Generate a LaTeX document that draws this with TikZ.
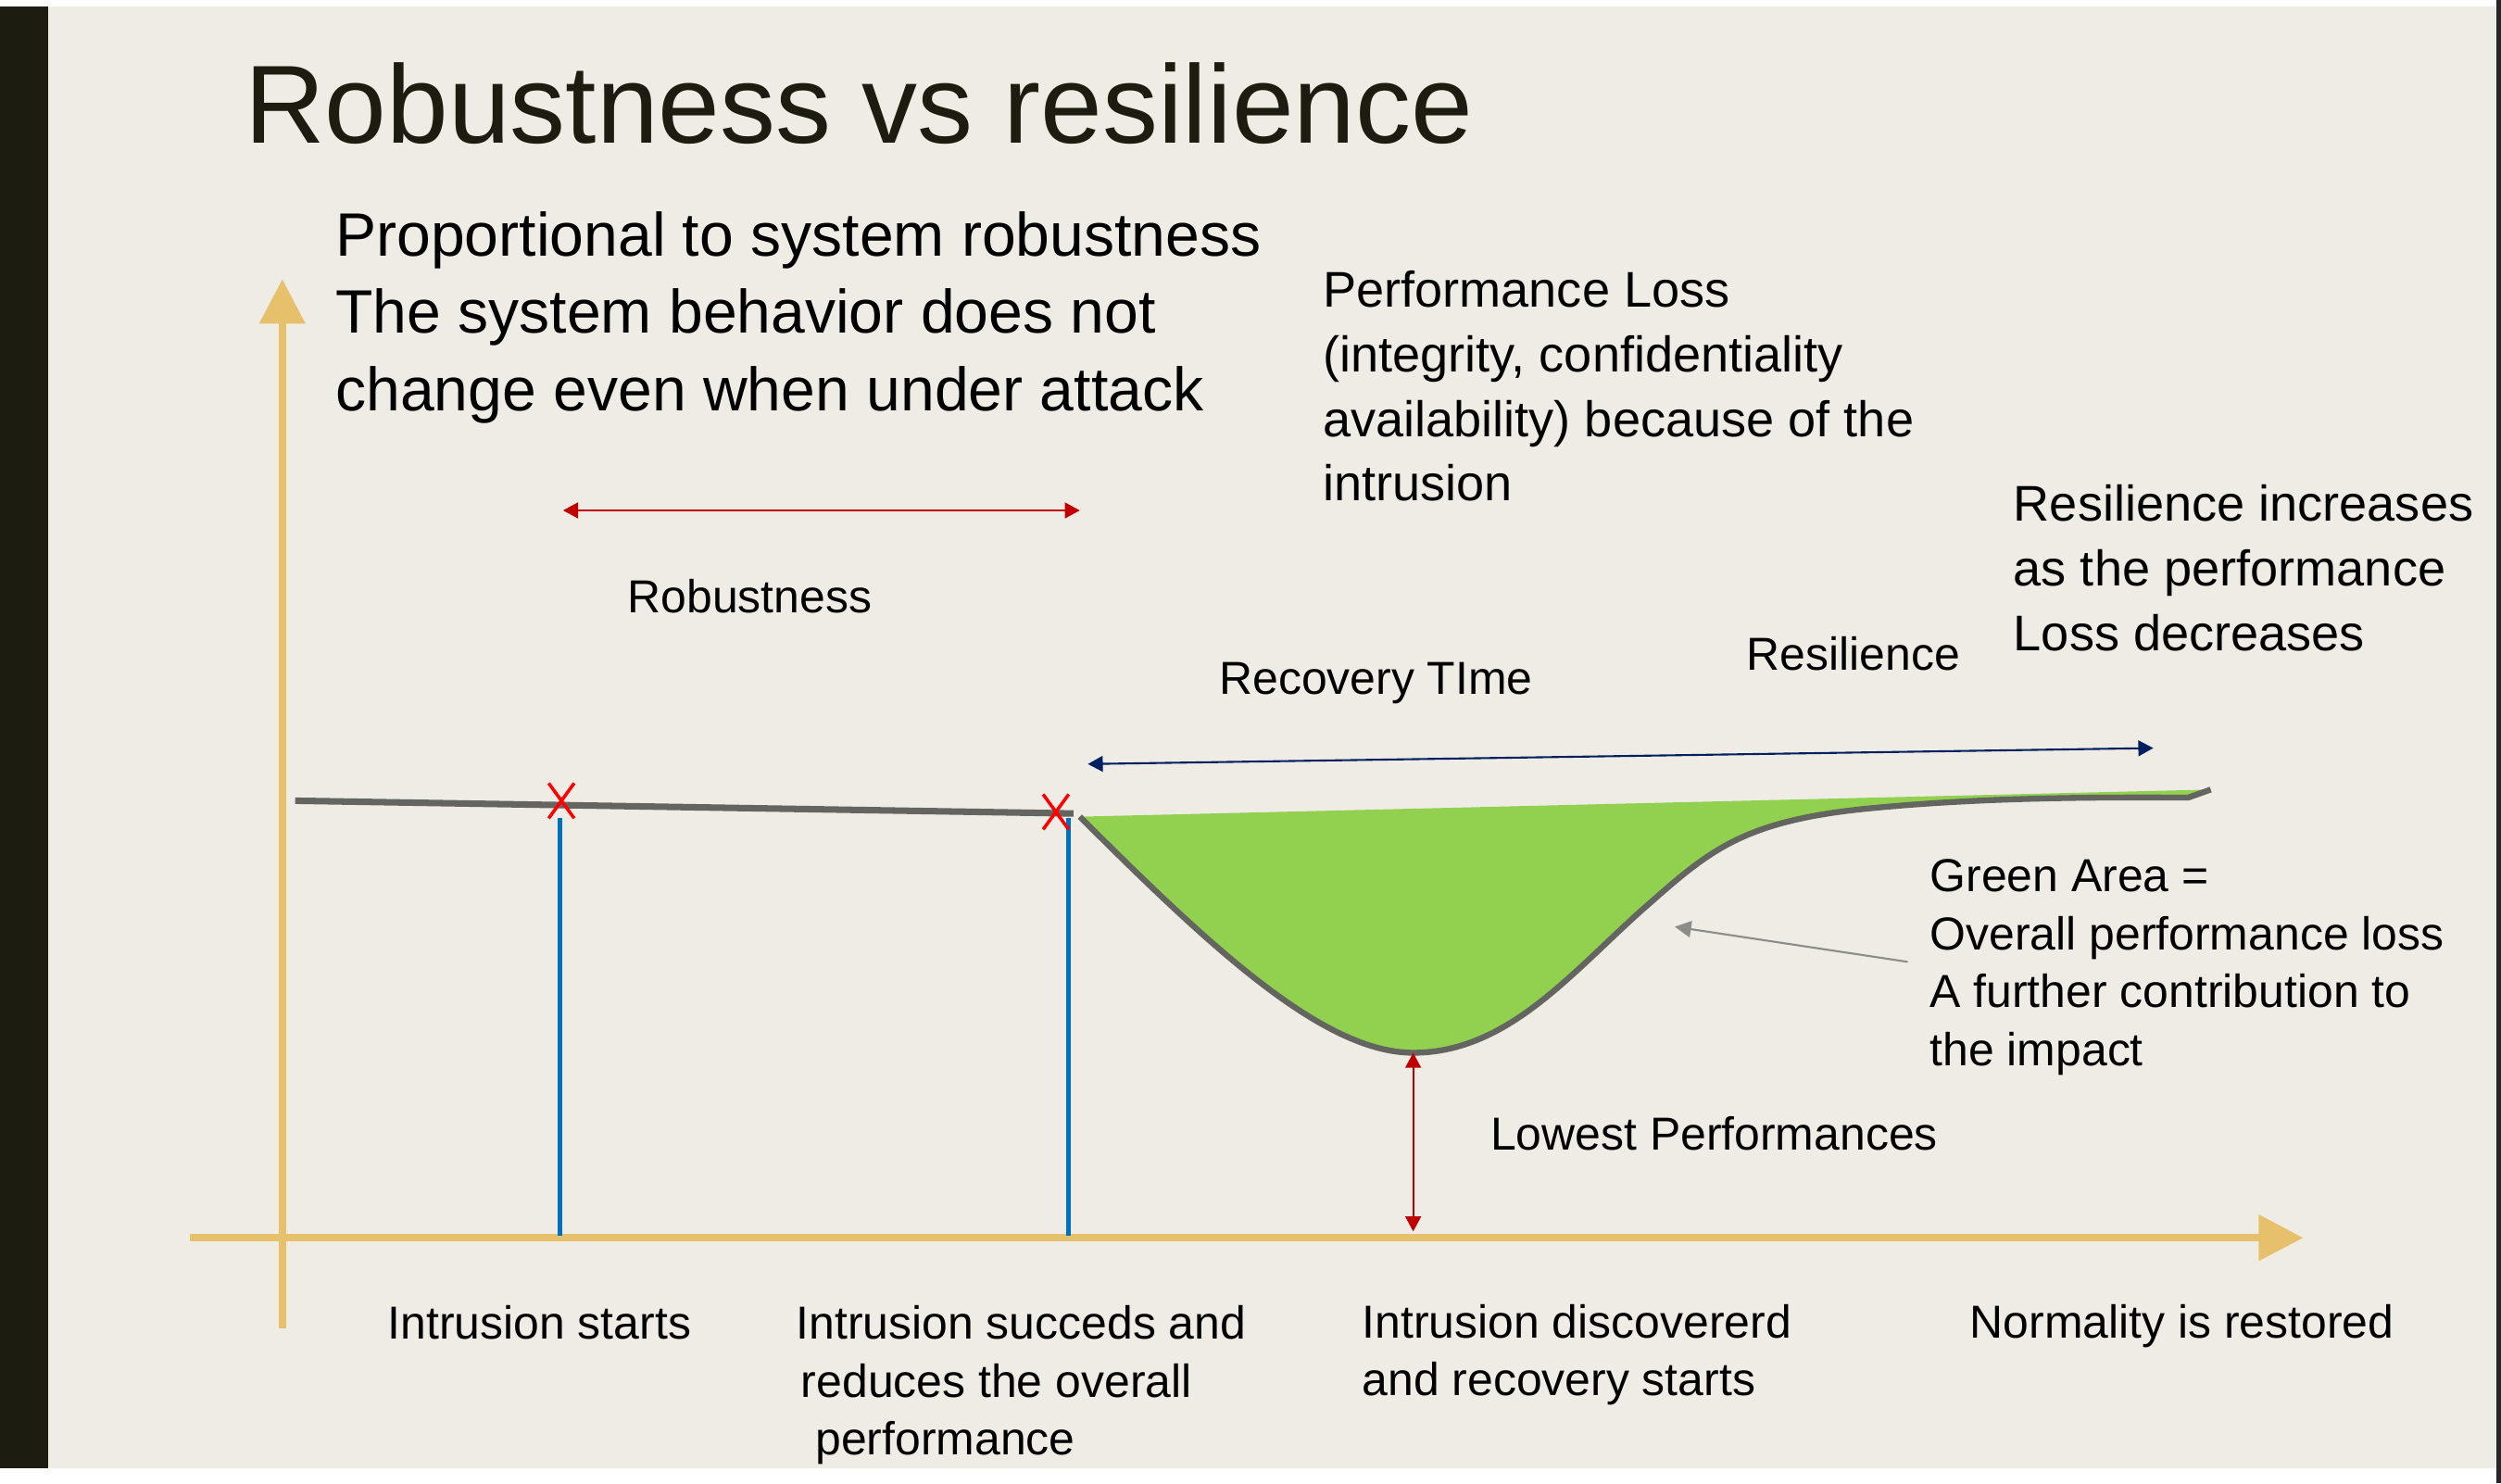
\documentclass[tikz,border=0pt]{standalone}
\usepackage{fontspec}
\setmainfont{Liberation Sans}
\usetikzlibrary{arrows.meta,positioning}
\definecolor{bg}{HTML}{EEECE4}
\definecolor{sidebar}{HTML}{1C1C11}
\definecolor{edgebar}{HTML}{26262A}
\definecolor{axisgold}{HTML}{E6C06A}
\definecolor{lossgreen}{HTML}{92D050}
\definecolor{curvegrey}{HTML}{646461}
\definecolor{markblue}{HTML}{0070C0}
\definecolor{dimred}{HTML}{C00000}
\definecolor{dimnavy}{HTML}{002060}
\definecolor{notegrey}{HTML}{8C8C8C}

\begin{document}
\begin{tikzpicture}[x=0.017219cm,y=-0.017219cm,
  axis/.style={axisgold,line width=2.2pt,-{Triangle[length=13.7pt,width=13.7pt]}},
  dim/.style={line width=0.6pt,{Triangle[length=4.6pt,width=4.8pt]}-{Triangle[length=4.6pt,width=4.8pt]}},
  marker/.style={markblue,line width=1.4pt},
  cross/.style={red,line width=1pt},
  txt/.style={anchor=base west,align=left,inner sep=0pt,font=\fontsize{14.2}{17.7}\selectfont},
  bigtxt/.style={txt,font=\fontsize{15.4}{19.8}\selectfont}
]
  \useasboundingbox (0,0) rectangle (1568,930);
  % slide background
  \fill[white] (0,0) rectangle (1568,930);
  \fill[bg] (0,4.07) rectangle (1565,920.5);
  \fill[sidebar] (0,4.07) rectangle (30.2,920.5);
  \fill[edgebar] (1565,0) rectangle (1568,930);

  \node[txt,font=\fontsize{34.1}{40}\selectfont,text=sidebar] (title) at (153,90) {Robustness vs resilience};

  % axes
  \draw[axis] (119,776) -- (1444,776);
  \draw[axis] (177,833) -- (177,175);

  % performance curve
  \draw[curvegrey,line width=2pt] (185,502) -- (673,510);
  \draw[curvegrey,line width=1.8pt,fill=lossgreen] (677,512)
    .. controls (760,595) and (830,660) .. (886,660)
    .. controls (945,660) and (985,610) .. (1030,570)
    .. controls (1070,535) and (1090,515) .. (1170,507)
    .. controls (1250,499) and (1330,500) .. (1372,500) -- (1386,495);

  \draw[marker] (351,513) -- (351,775);
  \draw[marker] (670,513) -- (670,775);
  \foreach \cx/\cy in {352/502,662/509}
    \draw[cross] (\cx-8,\cy-11) -- (\cx+8,\cy+11) (\cx+8,\cy-11) -- (\cx-8,\cy+11);

  % dimension arrows
  \coordinate (rob-l) at (353,320);
  \coordinate (rob-r) at (677,320);
  \coordinate (rec-l) at (682,479);
  \coordinate (rec-r) at (1350,469);
  \coordinate (low-t) at (886,660);
  \coordinate (low-b) at (886,772);
  \coordinate (note-tail) at (1196,603);
  \coordinate (note-tip) at (1050,581);
  \draw[dim,dimred] (rob-l) -- (rob-r);
  \draw[dim,dimnavy] (rec-l) -- (rec-r);
  \draw[dim,dimred,line width=0.5pt] (low-t) -- (low-b);
  \draw[notegrey,line width=0.6pt,-{Triangle[length=5pt,width=5pt]}] (note-tail) -- (note-tip);

  % texts (multi-line nodes sit on their last baseline)
  \node[txt,font=\fontsize{18.8}{23.8}\selectfont] (robnote) at (210,257.5) {Proportional to system robustness\\The system behavior does not\\change even when under attack};
  \node[bigtxt] (lossnote) at (829,314) {Performance Loss\\(integrity, confidentiality\\availability) because of the\\intrusion};
  \node[bigtxt] (resnote) at (1262,407.8) {Resilience increases\\as the performance\\Loss decreases};
  \node[txt] (lblrob) at (393,384.3) {Robustness};
  \node[txt] (lblrec) at (764,435) {Recovery TIme};
  \node[txt] (lblres) at (1094.7,420.3) {Resilience};
  \node[txt,font=\fontsize{14.2}{17.9}\selectfont] (greennote) at (1209.6,668.4) {Green Area =\\Overall performance loss\\A further contribution to\\the impact};
  \node[txt] (lowest) at (934,721) {Lowest Performances};
  \node[txt] (ev1) at (242.7,839.7) {Intrusion starts};
  \node[txt] (ev2) at (498.8,912) {Intrusion succeds and\\\hspace{1.5pt}reduces the overall\\\hspace{5.9pt}performance};
  \node[txt] (ev3) at (853.6,875) {Intrusion discovererd\\and recovery starts};
  \node[txt] (ev4) at (1234.6,839) {Normality is restored};
\end{tikzpicture}
\end{document}
